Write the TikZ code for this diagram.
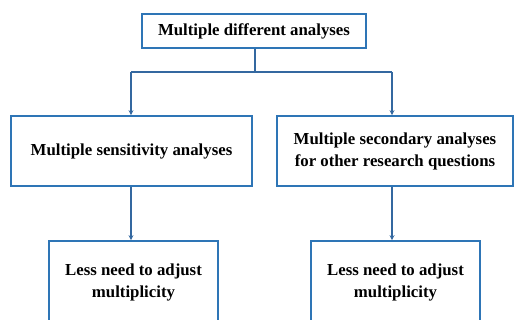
\documentclass[tikz,border=0pt]{standalone}
\usepackage{fontspec}
\setmainfont{Liberation Serif}
\usetikzlibrary{arrows.meta}
\definecolor{boxblue}{RGB}{46,117,182}
\definecolor{arrowblue}{RGB}{52,104,160}
\tikzset{
  box/.style={draw=boxblue, line width=1.6pt, fill=white, align=center, inner sep=0pt,
    font=\fontsize{16.8}{22}\selectfont\bfseries},
  conn/.style={draw=arrowblue, line width=2pt},
  arr/.style={conn, -{Stealth[length=5pt,width=5pt]}}
}
\begin{document}
\begin{tikzpicture}[x=1pt,y=-1pt]
\useasboundingbox (0,0) rectangle (514,320);
\node[box, minimum width=224pt, minimum height=34pt] (top) at (254,31) {Multiple different analyses};
\node[box, minimum width=241pt, minimum height=70pt] (left) at (131.5,151) {Multiple sensitivity analyses};
\node[box, minimum width=236pt, minimum height=70pt] (right) at (395,151) {Multiple secondary analyses\\for other research questions};
\node[box, minimum width=169pt, minimum height=82pt] (bl) at (133.5,282) {Less need to adjust\\multiplicity};
\node[box, minimum width=169pt, minimum height=82pt] (br) at (395.5,282) {Less need to adjust\\multiplicity};
\coordinate (j) at (255,72);
\coordinate (jl) at (131,72);
\coordinate (jr) at (392,72);
\draw[conn] (top.south -| j) -- (j);
\draw[conn] (jl) -- (jr);
\draw[arr] (jl) -- (jl |- left.north);
\draw[arr] (jr) -- (jr |- right.north);
\draw[arr] (left.south -| jl) -- (jl |- bl.north);
\draw[arr] (right.south -| jr) -- (jr |- br.north);
\end{tikzpicture}
\end{document}
